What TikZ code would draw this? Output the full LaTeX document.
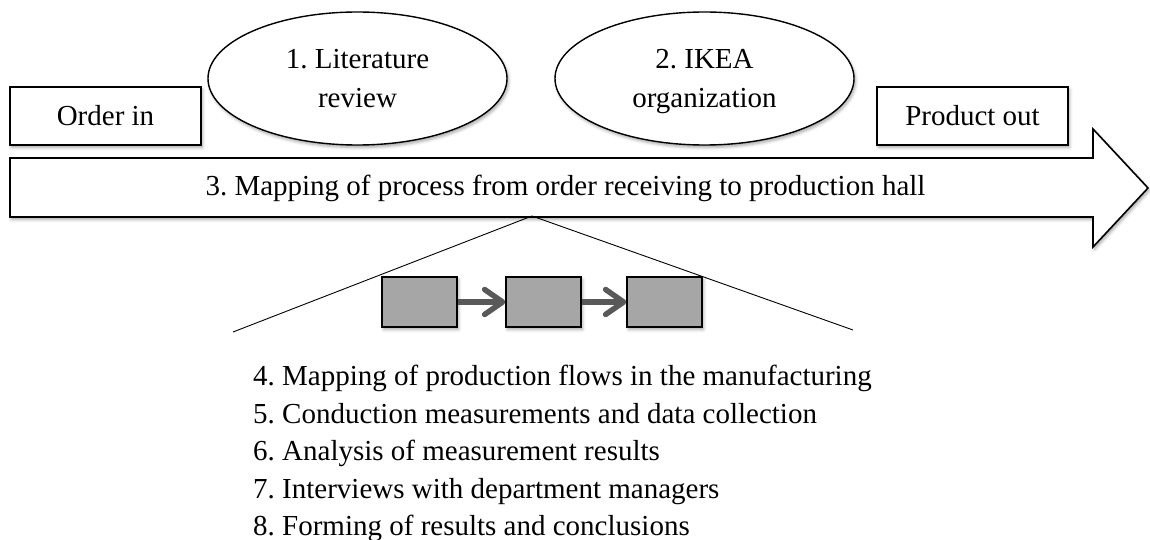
\documentclass[tikz,border=0pt]{standalone}
\usepackage{fontspec}
\setmainfont{Liberation Serif}
\usetikzlibrary{arrows.meta,shapes.geometric,shadows.blur}
\frenchspacing

\definecolor{boxgray}{HTML}{A6A6A6}
\definecolor{flowgray}{HTML}{595959}

\tikzset{
  softshadow/.style={blur shadow={shadow xshift=1.5pt, shadow yshift=-2.5pt,
      shadow blur radius=3pt, shadow opacity=35}},
  labelfont/.style={font=\fontsize{29}{39}\selectfont},
  endbox/.style={draw, line width=1.6pt, fill=white, softshadow, labelfont,
      minimum width=191pt, minimum height=58pt, inner sep=0pt},
  topic/.style={ellipse, draw, line width=1.4pt, fill=white, softshadow, labelfont,
      minimum width=299pt, minimum height=133pt, inner sep=0pt, align=center},
  bigarrow/.style={draw, line width=1.6pt, fill=white, line join=miter, softshadow},
  flowbox/.style={draw, line width=1.3pt, fill=boxgray, softshadow,
      minimum width=75pt, minimum height=50pt, inner sep=0pt},
  flow/.style={draw=flowgray, line width=5.5pt,
      -{Straight Barb[length=18pt, width=25pt, line cap=round, line join=round]}},
  zoomline/.style={line width=0.9pt},
}

\begin{document}
\begin{tikzpicture}[x=1pt, y=-1pt]
\useasboundingbox (0,0) rectangle (1150,540);

% main process arrow
\path[bigarrow] (10,158) -- (1093,158) -- (1093,129) -- (1148,188)
  -- (1093,247) -- (1093,217) -- (10,217) -- cycle;
\node[labelfont, inner sep=0pt, anchor=base] (mapping) at (565.5,195)
  {3. Mapping of process from order receiving to production hall};

% start and end of the chain
\node[endbox] (orderin) at (105.5,116) {Order in};
\node[endbox] (productout) at (972.5,116) {Product out};

% supporting studies
\node[topic] (literature) at (357.5,78.5) {1. Literature\\review};
\node[topic] (ikea) at (704.5,78.5)
  {2. IKEA\\\raisebox{0pt}[\height][0pt]{organization}};

% detail view of the production flow
\coordinate (apex) at (532,216);
\coordinate (leftend) at (233,332);
\coordinate (rightend) at (853,330);
\draw[zoomline] (leftend) -- (apex) -- (rightend);

\node[flowbox] (stepA) at (419.5,302) {};
\node[flowbox] (stepB) at (543.5,302) {};
\node[flowbox] (stepC) at (664.5,302) {};
\draw[flow] (stepA) -- (stepB);
\draw[flow] (stepB) -- (stepC);

% list of work steps
\node[font=\fontsize{29}{37.5}\selectfont, align=left, inner sep=0pt,
      anchor=north west] (steps) at (253,365)
  {4. Mapping of production flows in the manufacturing\\
   5. Conduction measurements and data collection\\
   6. Analysis of measurement results\\
   7. Interviews with department managers\\
   8. Forming of results and conclusions};
\end{tikzpicture}
\end{document}
